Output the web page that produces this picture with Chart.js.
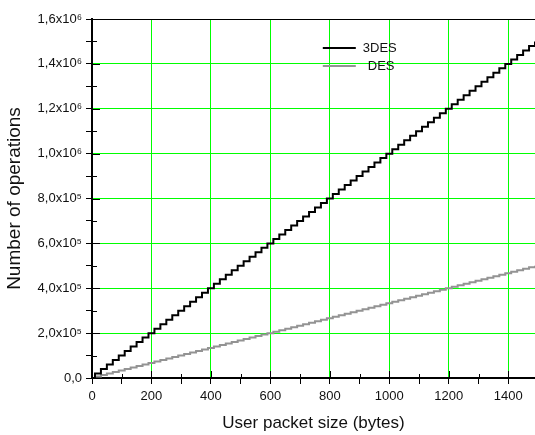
<!DOCTYPE html>
<html>
<head>
<meta charset="utf-8">
<script src="https://cdn.jsdelivr.net/npm/chart.js@4.4.0/dist/chart.umd.min.js"></script>
<style>
  html, body { margin: 0; padding: 0; background: #fff; }
  #wrap { width: 535px; height: 435px; }
</style>
</head>
<body>
<div id="wrap"><canvas id="myChart"></canvas></div>
<script>
// packet sizes (bytes) where each step of the curves changes
const packetSizes = [0, 10, 30, 50, 70, 90, 110, 130, 150, 170, 190, 210, 230, 250, 270, 290,
  310, 330, 350, 370, 390, 410, 430, 450, 470, 490, 510, 530, 550, 570, 590, 610, 630, 650,
  670, 690, 710, 730, 750, 770, 790, 810, 830, 850, 870, 890, 910, 930, 950, 970, 990, 1010,
  1030, 1050, 1070, 1090, 1110, 1130, 1150, 1170, 1190, 1210, 1230, 1250, 1270, 1290, 1310,
  1330, 1350, 1370, 1390, 1410, 1430, 1450, 1470, 1490];

const ops3DES = [0, 20000, 40000, 60000, 80000, 100000, 120000, 140000, 160000, 180000,
  200000, 220000, 240000, 260000, 280000, 300000, 320000, 340000, 360000, 380000, 400000,
  420000, 440000, 460000, 480000, 500000, 520000, 540000, 560000, 580000, 600000, 620000,
  640000, 660000, 680000, 700000, 720000, 740000, 760000, 780000, 800000, 820000, 840000,
  860000, 880000, 900000, 920000, 940000, 960000, 980000, 1000000, 1020000, 1040000,
  1060000, 1080000, 1100000, 1120000, 1140000, 1160000, 1180000, 1200000, 1220000, 1240000,
  1260000, 1280000, 1300000, 1320000, 1340000, 1360000, 1380000, 1400000, 1420000, 1440000,
  1460000, 1480000, 1500000];

const opsDES = [0, 6667, 13333, 20000, 26667, 33333, 40000, 46667, 53333, 60000, 66667,
  73333, 80000, 86667, 93333, 100000, 106667, 113333, 120000, 126667, 133333, 140000,
  146667, 153333, 160000, 166667, 173333, 180000, 186667, 193333, 200000, 206667, 213333,
  220000, 226667, 233333, 240000, 246667, 253333, 260000, 266667, 273333, 280000, 286667,
  293333, 300000, 306667, 313333, 320000, 326667, 333333, 340000, 346667, 353333, 360000,
  366667, 373333, 380000, 386667, 393333, 400000, 406667, 413333, 420000, 426667, 433333,
  440000, 446667, 453333, 460000, 466667, 473333, 480000, 486667, 493333, 500000];

const seriesNames = ["3DES", "DES"];

// axis ticks: labelled every other one
const xTicks = [0, 100, 200, 300, 400, 500, 600, 700, 800, 900, 1000, 1100, 1200, 1300, 1400];
const yTicks = [0, 100000, 200000, 300000, 400000, 500000, 600000, 700000, 800000, 900000,
  1000000, 1100000, 1200000, 1300000, 1400000, 1500000, 1600000];

const FONT = "'Liberation Sans', Arial, sans-serif";
const GREEN = "#00ff00";
const NONE = "rgba(0,0,0,0)";

function toPoints(ys) {
  return packetSizes.map((x, i) => ({ x: x, y: ys[i] }));
}

function yLabel(v) {
  if (v === 0) return "0,0";
  if (v % 200000 !== 0) return "";
  if (v < 1000000) return (v / 100000).toFixed(1).replace(".", ",") + "x10\u2075";
  return (v / 1000000).toFixed(1).replace(".", ",") + "x10\u2076";
}

const xGridColors = xTicks.map((v) => (v > 0 && v % 200 === 0 ? GREEN : NONE));
const yGridColors = yTicks.map((v) => {
  if (v === 1600000) return "#000";
  return v > 0 && v % 200000 === 0 ? GREEN : NONE;
});

// the inner half of the tick marks (chart.js only draws them outside)
const innerTicks = {
  id: "innerTicks",
  afterDatasetsDraw(chart) {
    const ctx = chart.ctx;
    const a = chart.chartArea;
    ctx.save();
    ctx.strokeStyle = "#000";
    ctx.lineWidth = 1;
    ctx.beginPath();
    xTicks.forEach((v) => {
      const px = Math.round(chart.scales.x.getPixelForValue(v)) + 0.5;
      const len = v % 200 === 0 ? 7 : 4;
      ctx.moveTo(px, a.bottom);
      ctx.lineTo(px, a.bottom - len);
    });
    yTicks.forEach((v) => {
      if (v === 1600000) return;
      const py = Math.round(chart.scales.y.getPixelForValue(v)) + 0.5;
      const len = v % 200000 === 0 ? 8 : 5;
      ctx.moveTo(a.left, py);
      ctx.lineTo(a.left + len, py);
    });
    ctx.stroke();
    ctx.restore();
  }
};

// legend drawn inside the plot area
const innerLegend = {
  id: "innerLegend",
  afterDatasetsDraw(chart) {
    const ctx = chart.ctx;
    const a = chart.chartArea;
    const x0 = a.left + (a.right - a.left) * 0.521;
    const rows = [a.top + 29, a.top + 47];
    ctx.save();
    ctx.font = "13px " + FONT;
    ctx.textBaseline = "middle";
    chart.data.datasets.forEach((ds, i) => {
      ctx.strokeStyle = ds.borderColor;
      ctx.lineWidth = 2;
      ctx.beginPath();
      ctx.moveTo(x0, rows[i]);
      ctx.lineTo(x0 + 33, rows[i]);
      ctx.stroke();
      ctx.fillStyle = "#111";
      ctx.fillText(ds.label, x0 + 40 + i * 5, rows[i]);
    });
    ctx.restore();
  }
};

const data = {
  datasets: [
    {
      label: seriesNames[0],
      data: toPoints(ops3DES),
      borderColor: "#000000",
      borderWidth: 2,
      stepped: true,
      pointRadius: 0
    },
    {
      label: seriesNames[1],
      data: toPoints(opsDES),
      borderColor: "#939393",
      borderWidth: 2,
      stepped: true,
      pointRadius: 0
    }
  ]
};

const options = {
  responsive: true,
  maintainAspectRatio: false,
  animation: false,
  layout: { padding: { top: 19, right: 0, left: 0, bottom: 0 } },
  plugins: {
    legend: { display: false },
    tooltip: { enabled: false }
  },
  scales: {
    x: {
      type: "linear",
      min: 0,
      max: 1490,
      afterBuildTicks: (s) => { s.ticks = xTicks.map((v) => ({ value: v })); },
      afterFit: (s) => { s.height = 57; },
      border: { color: "#000", width: 2 },
      grid: {
        color: xGridColors,
        tickColor: "#000",
        tickLength: 6,
        lineWidth: 1
      },
      ticks: {
        autoSkip: false,
        maxRotation: 0,
        padding: 5,
        color: "#111",
        font: { family: FONT, size: 13 },
        callback: (v) => (v % 200 === 0 ? String(v) : "")
      },
      title: {
        display: true,
        text: "User packet size (bytes)",
        color: "#111",
        font: { family: FONT, size: 17 },
        padding: { top: 0, bottom: 1 }
      }
    },
    y: {
      min: 0,
      max: 1600000,
      afterBuildTicks: (s) => { s.ticks = yTicks.map((v) => ({ value: v })); },
      afterFit: (s) => { s.width = 92; },
      border: { color: "#000", width: 2 },
      grid: {
        color: yGridColors,
        tickColor: "#000",
        tickLength: 6,
        lineWidth: 1
      },
      ticks: {
        autoSkip: false,
        padding: 4,
        color: "#111",
        font: { family: FONT, size: 13 },
        callback: yLabel
      },
      title: {
        display: true,
        text: "Number of operations",
        color: "#111",
        font: { family: FONT, size: 19 },
        padding: { top: 3, bottom: 0 }
      }
    }
  }
};

const config = {
  type: "line",
  data,
  options,
  plugins: [innerTicks, innerLegend]
};

const ctx = document.getElementById("myChart").getContext("2d");
const myChart = new Chart(ctx, config);
</script>
</body>
</html>
